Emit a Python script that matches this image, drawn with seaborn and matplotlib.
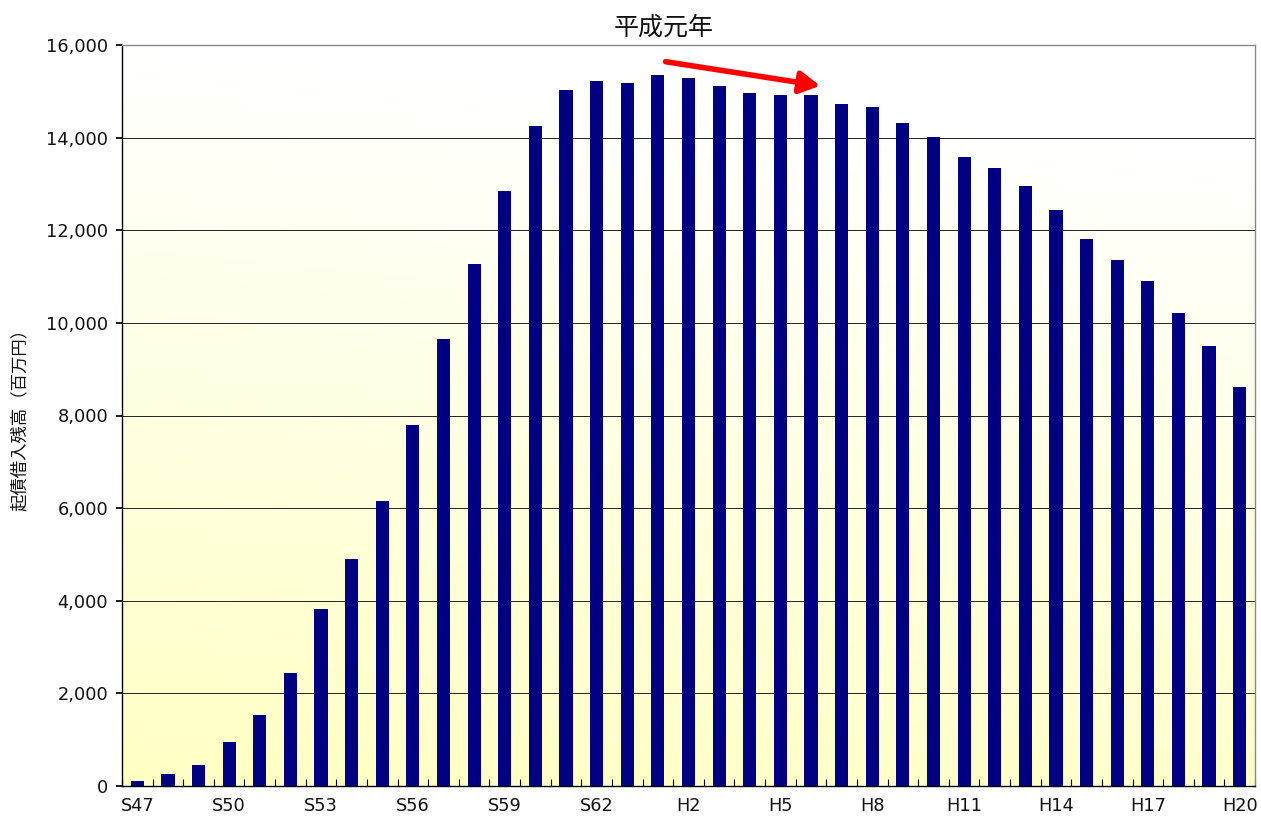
import numpy as np
import pandas as pd
import matplotlib
matplotlib.use("Agg")
import matplotlib.pyplot as plt
import seaborn as sns
from matplotlib.colors import LinearSegmentedColormap

years = (["S%d" % y for y in range(47, 64)] + ["H%d" % y for y in range(1, 21)])
values = [100, 260, 450, 950, 1530, 2440, 3820, 4900, 6150, 7800, 9650, 11270,
          12850, 14250, 15030, 15225, 15180, 15355, 15290, 15120, 14970, 14920,
          14920, 14730, 14665, 14320, 14020, 13585, 13350, 12960, 12440, 11815,
          11360, 10905, 10215, 9500, 8620]
tick_labels = ["S47", "S50", "S53", "S56", "S59", "S62", "H2", "H5", "H8",
               "H11", "H14", "H17", "H20"]
title = "平成元年"
ylabel = "起債借入残高（百万円）"

sns.set_theme(style="white")
plt.rcParams['font.family'] = ['Noto Sans CJK JP', 'DejaVu Sans']

df = pd.DataFrame({"year": years, "value": values})

fig = plt.figure(figsize=(12.61, 8.19), dpi=100)
ax = fig.add_axes([122/1261, 1-786/819, (1255-122)/1261, (786-45)/819])

# background gradient
ny, nx = 200, 200
yy, xx = np.mgrid[0:1:ny*1j, 0:1:nx*1j]
t = np.clip(1.0*yy + 0.15*xx, 0, 1)
cmap = LinearSegmentedColormap.from_list("bg", ["#ffffc4", "#ffffff"])
ax.imshow(t, cmap=cmap, extent=[-0.5, len(years)-0.5, 0, 16000], origin="lower",
          aspect="auto", zorder=0, interpolation="bilinear")

ax.set_axisbelow(True)
for v in range(2000, 16001, 2000):
    ax.axhline(v, color="#222222", lw=0.7, zorder=1)

sns.barplot(data=df, x="year", y="value", color="#000080", width=0.43,
            saturation=1, ax=ax, zorder=2, linewidth=0, edgecolor="none")

ax.set_xlim(-0.5, len(years)-0.5)
ax.set_ylim(0, 16000)

tick_font = dict(family=["DejaVu Sans"], size=12.8, color="#111111")

label_pos = [years.index(l) for l in tick_labels]
ax.set_xticks(label_pos)
ax.set_xticklabels(tick_labels, fontdict=tick_font)
ax.set_xticks(np.arange(-0.5, len(years), 1.0), minor=True)
ax.tick_params(axis="x", which="major", length=0, pad=8)
ax.tick_params(axis="x", which="minor", length=5, direction="in", color="black", width=0.8, bottom=True)

yt = list(range(0, 16001, 2000))
ax.set_yticks(yt)
ax.set_yticklabels([f"{v:,}" for v in yt], fontdict=tick_font)
ax.tick_params(axis="y", length=4, direction="out", left=True, color="black", pad=6)

ax.set_xlabel("")
ax.set_ylabel(ylabel, fontsize=12.5, labelpad=12, color="#111111")

for s in ["left", "bottom"]:
    ax.spines[s].set_color("black")
    ax.spines[s].set_linewidth(1.0)
for s in ["top", "right"]:
    ax.spines[s].set_color("#888888")
    ax.spines[s].set_linewidth(1.0)

fig.text(664/1261, 1-28/819, title, fontsize=18, ha="center", va="center", color="#111111")

ax.annotate("", xy=(22.3, 15120), xytext=(17.25, 15640),
            arrowprops=dict(arrowstyle="-|>,head_length=1.0,head_width=0.55",
                            color="#ff0000", lw=4, shrinkA=0, shrinkB=0), zorder=5)

fig.savefig("out.png", dpi=100)
